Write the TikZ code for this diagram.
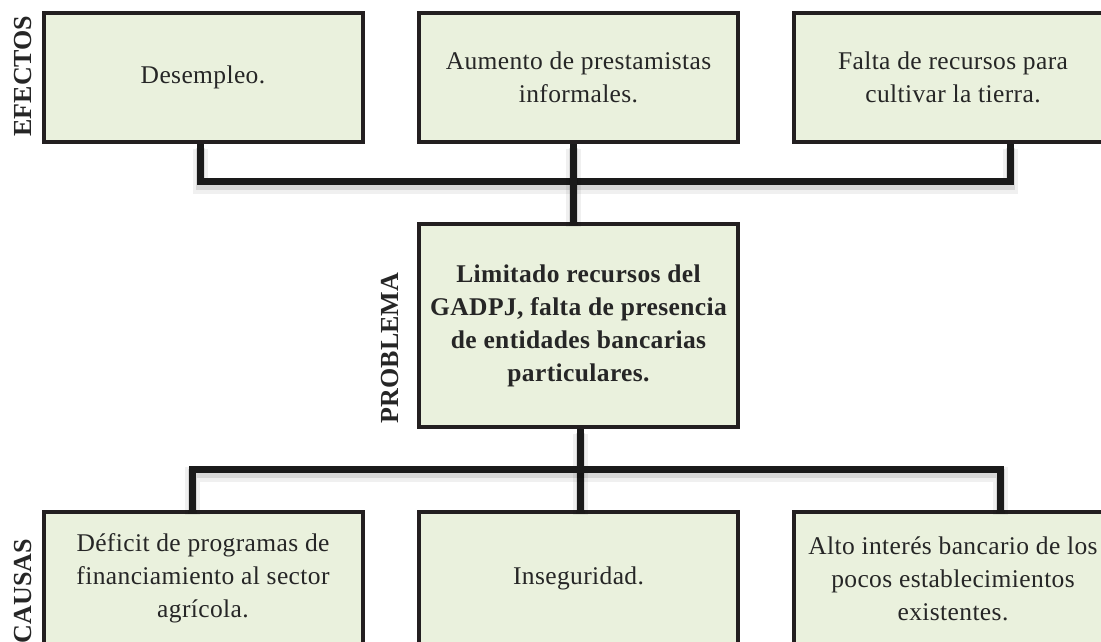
\documentclass[tikz,border=0pt]{standalone}
\usepackage{fontspec}
\setmainfont{Liberation Serif}
\definecolor{boxfill}{HTML}{EAF1DD}
\definecolor{boxline}{HTML}{231F20}
\definecolor{linec}{HTML}{1A1A1A}
\newcommand\bodytext{\fontsize{25.5}{33}\selectfont\addfontfeature{LetterSpace=1.5}}
\newcommand\labeltext{\fontsize{26}{30}\selectfont\bfseries}
\tikzset{
  box/.style={draw=boxline, fill=boxfill, line width=4pt, align=center,
    inner sep=0pt, minimum width=319pt, minimum height=129pt, font=\bodytext, text=black!85},
  sidelabel/.style={rotate=90, font=\labeltext, text=black!85, inner sep=0pt},
  conn/.style={draw=linec, line width=7pt, line join=miter,
    preaction={draw=black, opacity=.06, line width=15pt, transform canvas={yshift=-5pt}},
    preaction={draw=black, opacity=.10, line width=9pt, transform canvas={yshift=-4pt}}}
}
\begin{document}
\begin{tikzpicture}[x=1pt,y=-1pt]
\useasboundingbox (0,0) rectangle (1101,641);
\begin{scope}
\clip (0,0) rectangle (1101,641);
% effects
\node[box] (e1) at (203,77.5) {Desempleo.};
\node[box] (e2) at (578.5,77.5) {Aumento de prestamistas\\informales.};
\node[box] (e3) at (953,77.5) {Falta de recursos para\\cultivar la tierra.};
% problem
\node[box, minimum height=203pt, font=\bodytext\bfseries] (p) at (578.5,325.5)
  {Limitado recursos del\\GADPJ, falta de presencia\\de entidades bancarias\\particulares.};
% causes
\node[box, minimum height=133pt] (c1) at (203,578.5) {Déficit de programas de\\financiamiento al sector\\agrícola.};
\node[box, minimum height=133pt] (c2) at (578.5,578.5) {Inseguridad.};
\node[box, minimum height=133pt] (c3) at (953,578.5) {Alto interés bancario de los\\pocos establecimientos\\existentes.};
% side labels
\node[sidelabel] (lef) at (23,76) {EFECTOS};
\node[sidelabel] (lpr) at (390,348) {PROBLEMA};
\node[sidelabel] (lca) at (23,591) {CAUSAS};
% connector coordinates
\coordinate (t1) at (200,181);
\coordinate (tm) at (573,181);
\coordinate (t3) at (1010,181);
\coordinate (b1) at (192,469);
\coordinate (bm) at (580,469);
\coordinate (b3) at (1000,469);
% top connectors
\draw[conn] (t1 |- e1.south) -- (t1) -- (t3) -- (t3 |- e3.south);
\draw[conn] (tm |- e2.south) -- (tm |- p.north);
% bottom connectors
\draw[conn] (bm |- p.south) -- (bm |- c2.north);
\draw[conn] (b1 |- c1.north) -- (b1) -- (b3) -- (b3 |- c3.north);
\end{scope}
\end{tikzpicture}
\end{document}
